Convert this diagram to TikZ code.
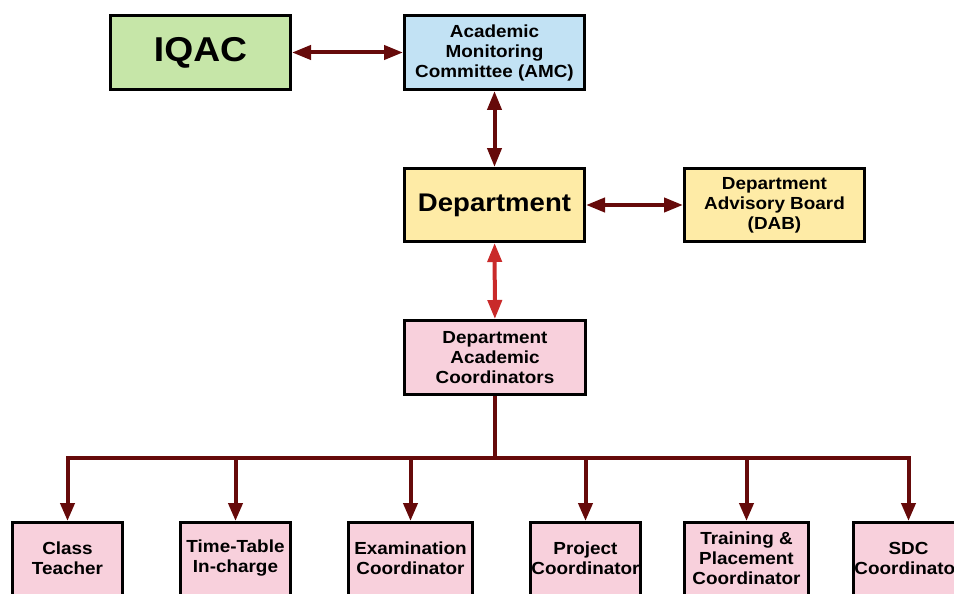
\documentclass[tikz,border=0pt]{standalone}
\usepackage{fontspec}
\setmainfont[FakeStretch=1.08]{Liberation Sans}
\usetikzlibrary{arrows.meta}
\definecolor{maroon}{HTML}{660A0A}
\definecolor{redarr}{HTML}{C92A2A}
\definecolor{gfill}{HTML}{C6E6A8}
\definecolor{bfill}{HTML}{C2E2F4}
\definecolor{yfill}{HTML}{FEEBA6}
\definecolor{pfill}{HTML}{F8D0DC}
\begin{document}
\begin{tikzpicture}[x=1pt,y=-1pt,
  box/.style={draw=black, line width=3pt, inner sep=0pt, align=center,
    font=\bfseries\fontsize{17.5}{20}\selectfont},
  txt/.style={inner sep=0pt, align=center, font=\bfseries\fontsize{17.5}{20}\selectfont},
  line/.style={line width=4pt, draw=maroon},
  conn/.style={line, -{Triangle[length=18pt,width=14pt]}},
  bconn/.style={line, {Triangle[length=19pt,width=14pt]}-{Triangle[length=19pt,width=14pt]}}]
\useasboundingbox (0,0) rectangle (954,594);
\clip (0,0) rectangle (954,594);

% top row
\node[box, fill=gfill, minimum width=180pt, minimum height=74pt,
  font=\bfseries\fontsize{34.5}{40}\selectfont] (iqac) at (200.5,52.5) {IQAC};
\node[box, fill=bfill, minimum width=180pt, minimum height=74pt] (amc) at (494.5,52.5)
  {Academic\\Monitoring\\Committee (AMC)};
% middle
\node[box, fill=yfill, minimum width=180pt, minimum height=73pt,
  font=\bfseries\fontsize{25.5}{30}\selectfont] (dept) at (494.5,205) {Department};
\node[box, fill=yfill, minimum width=180pt, minimum height=73pt] (dab) at (774.5,205)
  {Department\\Advisory Board\\(DAB)};
\node[box, fill=pfill, minimum width=181pt, minimum height=74pt] (dac) at (495,357.5)
  {Department\\Academic\\Coordinators};

% bottom boxes
\node[box, fill=pfill, minimum width=110pt, minimum height=100pt, anchor=north] (ct) at (67.5,521) {};
\node[box, fill=pfill, minimum width=110pt, minimum height=100pt, anchor=north] (tt) at (235.5,521) {};
\node[box, fill=pfill, minimum width=124pt, minimum height=100pt, anchor=north] (ex) at (410.5,521) {};
\node[box, fill=pfill, minimum width=110pt, minimum height=100pt, anchor=north] (pc) at (585.5,521) {};
\node[box, fill=pfill, minimum width=124pt, minimum height=100pt, anchor=north] (tp) at (746.5,521) {};
\node[box, fill=pfill, minimum width=110pt, minimum height=100pt, anchor=north] (sdc) at (908.5,521) {};

\node[txt] (ct-t) at (67.5,558) {Class\\Teacher};
\node[txt] (tt-t) at (235.5,558) {Time-Table\\In-charge};
\node[txt] (ex-t) at (410.5,558) {Examination\\Coordinator};
\node[txt] (pc-t) at (585.5,558) {Project\\Coordinator};
\node[txt] (tp-t) at (746.5,558) {Training \&\\Placement\\Coordinator};
\node[txt] (sdc-t) at (908.5,558) {SDC\\Coordinator};

% connectors
\draw[bconn] (iqac) -- (amc);
\draw[bconn] (amc) -- (dept);
\draw[bconn] (dept) -- (dab);
\draw[bconn, draw=redarr] (dept) -- (dac);

\coordinate (bus) at (495,458);
\draw[line] (dac.south) -- (bus);
\draw[line, line cap=rect] (ct.north |- bus) -- (sdc.north |- bus);
\foreach \n in {ct,tt,ex,pc,tp,sdc}{
  \draw[conn] (\n.north |- bus) -- (\n.north);
}
\end{tikzpicture}
\end{document}
